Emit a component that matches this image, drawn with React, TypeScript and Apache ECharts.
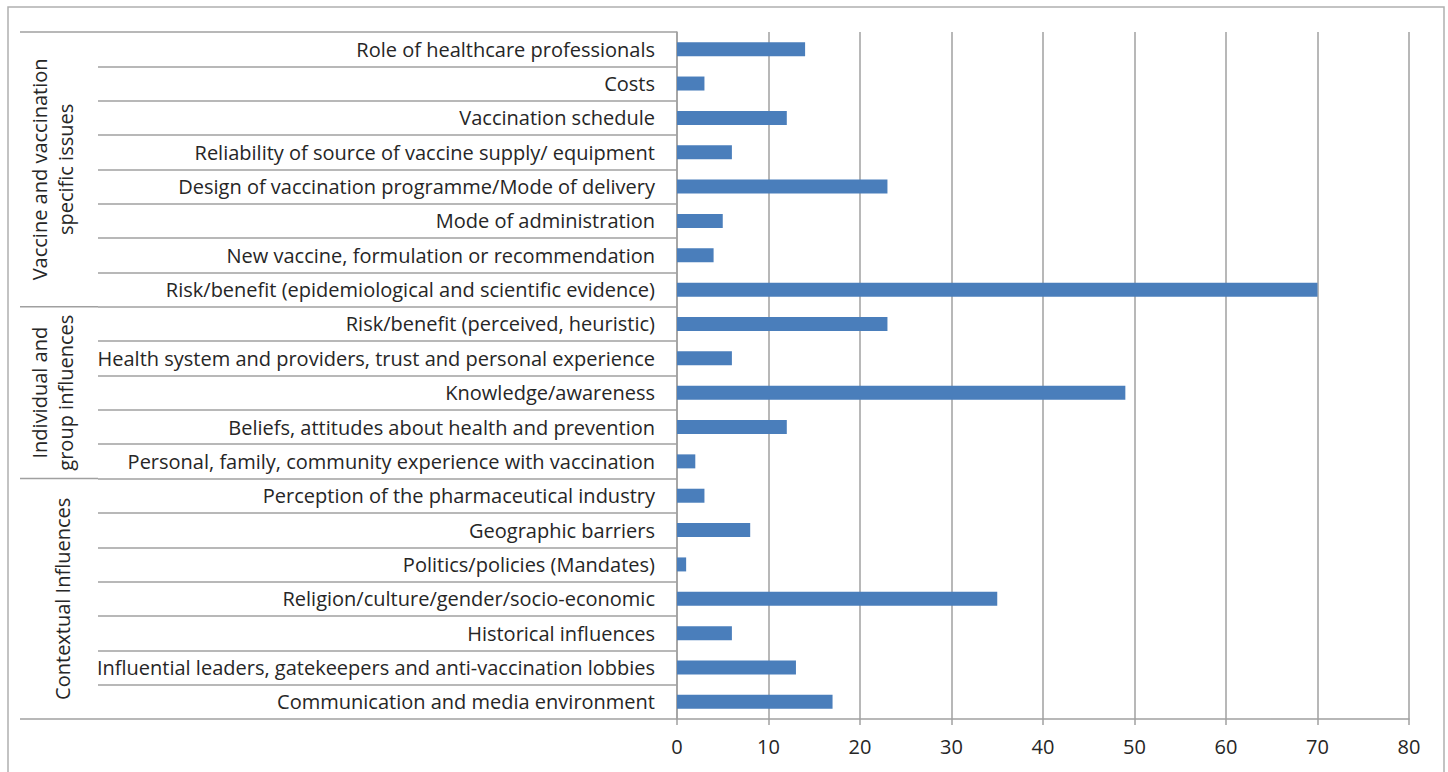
import React, { useEffect, useRef } from "react";
import * as echarts from "echarts";

const categories = [
  "Role of healthcare professionals",
  "Costs",
  "Vaccination schedule",
  "Reliability of source of vaccine supply/ equipment",
  "Design of vaccination programme/Mode of delivery",
  "Mode of administration",
  "New vaccine, formulation or recommendation",
  "Risk/benefit (epidemiological and scientific evidence)",
  "Risk/benefit (perceived, heuristic)",
  "Health system and providers, trust and personal experience",
  "Knowledge/awareness",
  "Beliefs, attitudes about health and prevention",
  "Personal, family, community experience with vaccination",
  "Perception of the pharmaceutical industry",
  "Geographic barriers",
  "Politics/policies (Mandates)",
  "Religion/culture/gender/socio-economic",
  "Historical influences",
  "Influential leaders, gatekeepers and anti-vaccination lobbies",
  "Communication and media environment",
];

const values = [14, 3, 12, 6, 23, 5, 4, 70, 23, 6, 49, 12, 2, 3, 8, 1, 35, 6, 13, 17];

// groups: label lines, first index, last index
const groupLabels = [
  ["Vaccine and vaccination", "specific issues"],
  ["Individual and", "group influences"],
  ["Contextual Influences"],
];
const groupStart = [0, 8, 13];
const groupEnd = [7, 12, 19];

const xTicks = [0, 10, 20, 30, 40, 50, 60, 70, 80];

const FONT = "Open Sans";
const FS = 20;
const GRAY = "#a0a0a0";
const TEXT = "#262626";

export default function App() {
  const ref = useRef<HTMLDivElement>(null);
  useEffect(() => {
    if (!ref.current) return;
    const chart = echarts.init(ref.current, undefined, { renderer: "svg" });
    chart.setOption({
      animation: false,
      backgroundColor: "#ffffff",
      grid: { left: 677, right: 39, top: 32, bottom: 53, containLabel: false },
      xAxis: {
        type: "value",
        min: xTicks[0],
        max: xTicks[xTicks.length - 1],
        interval: 10,
        axisLine: { show: true, lineStyle: { color: GRAY, width: 1.5 } },
        axisTick: { show: true, length: 6, lineStyle: { color: GRAY, width: 1.5 } },
        splitLine: { show: true, lineStyle: { color: GRAY, width: 1.5 } },
        axisLabel: { fontFamily: FONT, fontSize: FS, color: TEXT, margin: 17 },
      },
      yAxis: {
        type: "category",
        inverse: true,
        data: categories,
        axisLine: { show: true, lineStyle: { color: GRAY, width: 1.5 } },
        axisTick: { show: true, length: 579, lineStyle: { color: GRAY, width: 1.5 } },
        axisLabel: { fontFamily: FONT, fontSize: FS, color: TEXT, margin: 22 },
      },
      series: [
        {
          type: "bar",
          data: values,
          barWidth: 14,
          itemStyle: { color: "#4a7ebb" },
        },
      ],
    });

    const c0 = chart.convertToPixel({ yAxisIndex: 0 }, 0) as number;
    const c1 = chart.convertToPixel({ yAxisIndex: 0 }, 1) as number;
    const step = c1 - c0;
    const boundary = (i: number) => c0 + step * i - step / 2;
    const x0 = chart.convertToPixel({ xAxisIndex: 0 }, 0) as number;
    const tickLeft = x0 - 579;

    const graphics: any[] = [
      {
        type: "rect",
        shape: { x: 8, y: 7, width: 1436, height: 780 },
        style: { fill: "none", stroke: "#b0b0b0", lineWidth: 1.5 },
        silent: true,
      },
    ];
    const bounds = [...groupStart.map((s) => boundary(s)), boundary(groupEnd[groupEnd.length - 1] + 1)];
    bounds.forEach((y) => {
      graphics.push({
        type: "line",
        shape: { x1: 20, y1: y, x2: tickLeft, y2: y },
        style: { stroke: GRAY, lineWidth: 1.5 },
        silent: true,
      });
    });
    groupLabels.forEach((lines, g) => {
      const yc = (boundary(groupStart[g]) + boundary(groupEnd[g] + 1)) / 2;
      const xs = lines.length === 2 ? [39, 65] : [62];
      lines.forEach((t, k) => {
        graphics.push({
          type: "text",
          x: xs[k],
          y: yc,
          rotation: Math.PI / 2,
          style: {
            text: t,
            fontFamily: FONT,
            fontSize: FS,
            fill: TEXT,
            align: "center",
            verticalAlign: "middle",
          },
          silent: true,
        });
      });
    });
    chart.setOption({ graphic: graphics });

    return () => chart.dispose();
  }, []);
  return (
    <div
      ref={ref}
      style={{ position: "fixed", left: 0, top: 0, width: 1448, height: 772 }}
    />
  );
}
